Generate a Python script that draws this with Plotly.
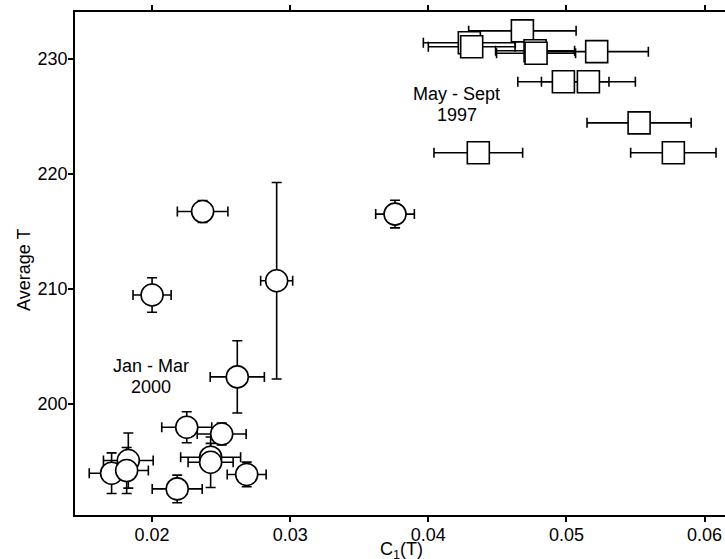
import plotly.graph_objects as go

# May - Sept 1997 (squares)
sq_x = [0.04681, 0.04297, 0.04314, 0.04773, 0.04780, 0.05219, 0.04978, 0.05159, 0.05526, 0.04362, 0.05774]
sq_y = [232.45, 231.42, 231.07, 230.72, 230.50, 230.64, 228.02, 228.02, 224.44, 221.84, 221.84]
sq_xerr = [0.00389, 0.00333, 0.00314, 0.00286, 0.00286, 0.00374, 0.00330, 0.00340, 0.00377, 0.00321, 0.00309]

# Jan - Mar 2000 (circles)
ci_x = [0.02366, 0.02000, 0.02902, 0.02617, 0.03759, 0.02251, 0.02504, 0.02424, 0.02424, 0.02685, 0.02182, 0.01707, 0.01828, 0.01816]
ci_y = [216.72, 209.46, 210.70, 202.33, 216.50, 197.95, 197.36, 195.34, 194.90, 193.84, 192.58, 193.95, 195.05, 194.18]
ci_xerr = [0.00183, 0.00138, 0.00116, 0.00196, 0.00140, 0.00181, 0.00177, 0.00217, 0.00163, 0.00141, 0.00181, 0.00162, 0.00180, 0.00157]
ci_yerr = [0.95, 1.50, 8.55, 3.14, 1.20, 1.35, 0.95, 1.20, 2.20, 1.07, 1.20, 1.77, 2.40, 2.00]

x_ticks = [0.02, 0.03, 0.04, 0.05, 0.06]
y_ticks = [200, 210, 220, 230]

# text labels (line, x, y)
labels = [("May - Sept", 0.04206, 226.95), ("1997", 0.04209, 225.13),
          ("Jan - Mar", 0.01992, 203.28), ("2000", 0.01992, 201.45)]

FONT = "Liberation Sans"
FS = 18

fig = go.Figure()
fig.add_trace(go.Scatter(
    x=ci_x, y=ci_y, mode="markers",
    marker=dict(symbol="circle", size=22, color="white", line=dict(color="black", width=1.6)),
    error_x=dict(type="data", array=ci_xerr, color="black", thickness=1.6, width=5),
    error_y=dict(type="data", array=ci_yerr, color="black", thickness=1.6, width=5),
    showlegend=False, hoverinfo="skip",
))
fig.add_trace(go.Scatter(
    x=sq_x, y=sq_y, mode="markers",
    marker=dict(symbol="square", size=22, color="white", line=dict(color="black", width=1.6)),
    error_x=dict(type="data", array=sq_xerr, color="black", thickness=1.6, width=5),
    showlegend=False, hoverinfo="skip",
))

for txt, lx, ly in labels:
    fig.add_annotation(x=lx, y=ly, text=txt, showarrow=False,
                       font=dict(family=FONT, size=FS, color="black"))
# axis titles
fig.add_annotation(xref="paper", yref="paper", x=0.503, y=-0.0696, text="C<sub>1</sub>(T)",
                   showarrow=False, yanchor="middle", xanchor="center",
                   font=dict(family=FONT, size=FS, color="black"))
fig.add_annotation(xref="paper", yref="paper", x=-0.0785, y=0.487, text="Average T",
                   showarrow=False, textangle=-90, yanchor="middle", xanchor="center",
                   font=dict(family=FONT, size=FS, color="black"))

fig.update_layout(
    width=725, height=559,
    margin=dict(l=75, r=0, t=12, b=44),
    paper_bgcolor="white", plot_bgcolor="white",
    font=dict(family=FONT, size=FS, color="black"),
    xaxis=dict(
        range=[0.01442, 0.06148], tickvals=x_ticks, ticktext=[f"{v:.2f}" for v in x_ticks],
        showgrid=False, zeroline=False, showline=True, linecolor="black", linewidth=1.8,
        ticks="outside", ticklen=5, tickwidth=1.6, tickcolor="black", mirror="ticks",
        tickfont=dict(family=FONT, size=FS), automargin=False, ticklabelstandoff=-3,
    ),
    yaxis=dict(
        range=[190.31, 234.09], tickvals=y_ticks, ticktext=[str(v) for v in y_ticks],
        showgrid=False, zeroline=False, showline=True, linecolor="black", linewidth=1.8,
        ticks="outside", ticklen=5, tickwidth=1.6, tickcolor="black",
        tickfont=dict(family=FONT, size=FS), automargin=False, ticklabelstandoff=-3,
    ),
)

fig.write_html("out.html", config={"displayModeBar": False},
               post_script="document.body.style.margin='0px';document.body.style.overflow='hidden';")
